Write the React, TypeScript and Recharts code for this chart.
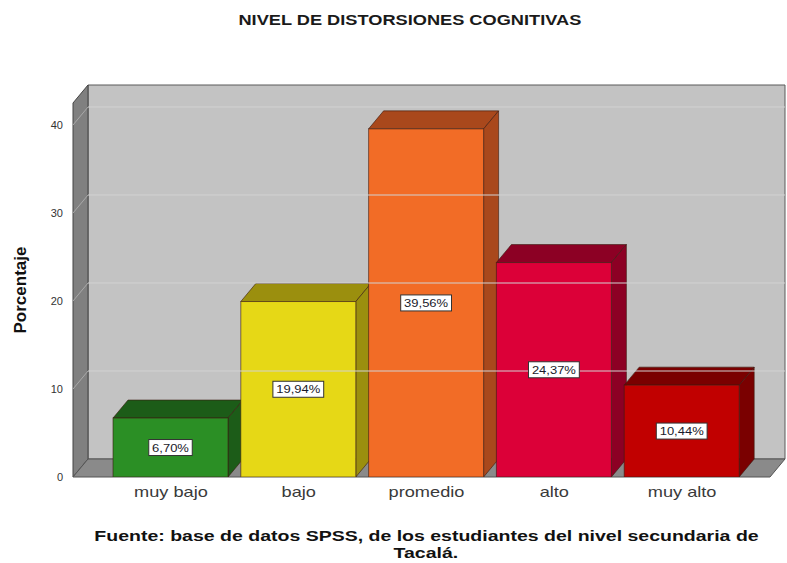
import { BarChart, Bar, XAxis, YAxis, ReferenceArea, ReferenceLine, LabelList } from 'recharts';

const categories = ['muy bajo', 'bajo', 'promedio', 'alto', 'muy alto'];
const percentages = [6.7, 19.94, 39.56, 24.37, 10.44];
const yTicks = [0, 10, 20, 30, 40];
const gridValues = [10, 20, 30, 40];

const faceColors = ['#2b8f25', '#e6d816', '#f26c26', '#dc0038', '#c10000'];
const sideColors = ['#1c5c18', '#9b8f0e', '#a9481c', '#8c0024', '#7a0000'];

// depth of the pseudo 3D box
const DX = 15;
const DY = 18;
const PAD_L = 34;
const PAD_R = 24;
const SX = 1.3; // the source picture is stretched horizontally
const FONT = '"Liberation Sans", Arial, sans-serif';

const data = categories.map((name, i) => ({ name, value: percentages[i], idx: i }));

function Walls(props: any) {
  const { y, height } = props;
  const x = props.x - PAD_L;
  const width = props.width + PAD_L + PAD_R;
  const bottom = y + height;
  const right = x + width;
  return (
    <g>
      <polygon
        points={`${x + DX},${y - DY} ${right + DX},${y - DY} ${right + DX},${bottom - DY} ${x + DX},${bottom - DY}`}
        fill="#c3c3c3"
        stroke="#5a5a5a"
      />
      <polygon
        points={`${x},${y} ${x + DX},${y - DY} ${x + DX},${bottom - DY} ${x},${bottom}`}
        fill="#808080"
        stroke="#444"
      />
      <polygon
        points={`${x},${bottom} ${x + DX},${bottom - DY} ${right + DX},${bottom - DY} ${right},${bottom}`}
        fill="#8a8a8a"
        stroke="#555"
      />
    </g>
  );
}

function GridShape(props: any) {
  const { x1, y1, x2 } = props;
  const left = Math.min(x1, x2);
  const right = Math.max(x1, x2);
  return (
    <g>
      <line x1={left + DX} y1={y1 - DY} x2={right + DX} y2={y1 - DY} stroke="#d2d2d2" />
      <line x1={left} y1={y1} x2={left + DX} y2={y1 - DY} stroke="#a9a9a9" />
    </g>
  );
}

function Bar3D(props: any) {
  const { x, y, width, height } = props;
  const i = props.payload?.idx ?? props.index ?? 0;
  const face = faceColors[i];
  const side = sideColors[i];
  const b = y + height;
  return (
    <g>
      <polygon
        points={`${x},${y} ${x + DX},${y - DY} ${x + width + DX},${y - DY} ${x + width},${y}`}
        fill={side}
        stroke="#3a1a10"
        strokeOpacity={0.6}
      />
      <polygon
        points={`${x + width},${y} ${x + width + DX},${y - DY} ${x + width + DX},${b - DY} ${x + width},${b}`}
        fill={side}
        stroke="#3a1a10"
        strokeOpacity={0.6}
      />
      <rect x={x} y={y} width={width} height={height} fill={face} stroke="#3a1a10" strokeOpacity={0.6} />
    </g>
  );
}

function ValueLabel(props: any) {
  const vb = props.viewBox ?? props;
  const x = vb.x ?? props.x;
  const y = vb.y ?? props.y;
  const width = vb.width ?? props.width;
  const height = vb.height ?? props.height;
  const text = Number(props.value).toFixed(2).replace('.', ',') + '%';
  const w = text.length * 7.3 + 7;
  const cx = x + width / 2;
  const cy = y + height / 2;
  return (
    <g>
      <rect x={cx - w / 2} y={cy - 8} width={w} height={16} fill="#fff" stroke="#333" />
      <text
        transform={`translate(${cx},${cy + 4}) scale(${SX},1)`}
        textAnchor="middle"
        fontSize={10}
        fontFamily={FONT}
        fill="#1a1a2a"
      >
        {text}
      </text>
    </g>
  );
}

function CategoryTick(props: any) {
  const { x, y, payload } = props;
  return (
    <text
      transform={`translate(${x},${y}) scale(${SX},1)`}
      dy="0.71em"
      textAnchor="middle"
      fontSize={14}
      fontFamily={FONT}
      fill="#3a3a3a"
    >
      {payload.value}
    </text>
  );
}

const stretched = { display: 'inline-block', transform: `scaleX(${SX})`, transformOrigin: 'center' };

const footerLine = {
  position: 'absolute' as const,
  left: 76,
  width: 700,
  textAlign: 'center' as const,
  fontWeight: 'bold',
  fontSize: 15,
  lineHeight: '15px',
  color: '#111',
};

export default function App() {
  return (
    <div style={{ position: 'absolute', left: 0, top: 0, width: 787, height: 563, background: '#fff', fontFamily: FONT }}>
      <div style={{ position: 'absolute', left: 0, top: 12, width: 820, textAlign: 'center', fontSize: 14, fontWeight: 'bold', color: '#1a1a1a' }}>
        <span style={stretched}>NIVEL DE DISTORSIONES COGNITIVAS</span>
      </div>
      <BarChart
        width={787}
        height={563}
        data={data}
        margin={{ top: 103, right: 17, bottom: 56, left: 0 }}
      >
        <ReferenceArea y1={0} y2={42.5} shape={Walls} ifOverflow="visible" />
        {gridValues.map((v) => (
          <ReferenceLine key={v} y={v} shape={GridShape} />
        ))}
        <XAxis
          dataKey="name"
          axisLine={false}
          tickLine={false}
          tickSize={0}
          tickMargin={10}
          height={30}
          padding={{ left: PAD_L, right: PAD_R }}
          tick={CategoryTick}
          interval={0}
        />
        <YAxis
          width={73}
          domain={[0, 42.5]}
          ticks={yTicks}
          allowDataOverflow
          axisLine={false}
          tickLine={false}
          tickSize={0}
          tickMargin={10}
          tick={{ fill: '#333', fontSize: 11, fontFamily: FONT }}
        />
        <Bar dataKey="value" barSize={115} shape={Bar3D} isAnimationActive={false}>
          <LabelList dataKey="value" content={ValueLabel} />
        </Bar>
      </BarChart>
      <div
        style={{
          position: 'absolute',
          left: 21,
          top: 290,
          transform: 'translate(-50%, -50%) rotate(-90deg)',
          fontWeight: 'bold',
          fontSize: 17,
          color: '#111',
          whiteSpace: 'nowrap',
        }}
      >
        Porcentaje
      </div>
      <div style={{ ...footerLine, top: 528 }}>
        <span style={stretched}>Fuente: base de datos SPSS, de los estudiantes del nivel secundaria de</span>
      </div>
      <div style={{ ...footerLine, top: 545 }}>
        <span style={stretched}>Tacalá.</span>
      </div>
    </div>
  );
}
